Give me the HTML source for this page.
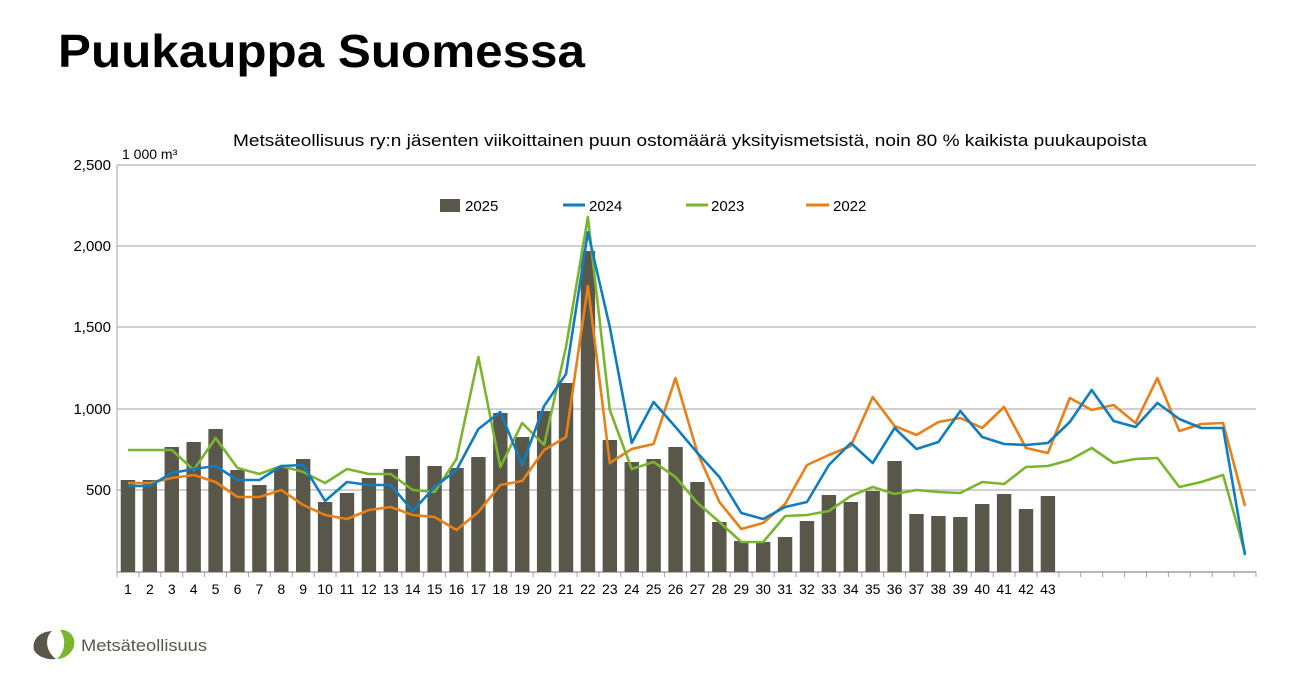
<!DOCTYPE html>
<html><head><meta charset="utf-8"><style>
html,body{margin:0;padding:0;background:#fff;width:1313px;height:687px;overflow:hidden}
svg{display:block;font-family:"Liberation Sans","DejaVu Sans",sans-serif}
</style></head><body>
<svg id="s" width="1313" height="687" xmlns="http://www.w3.org/2000/svg">
<text x="58" y="67" font-size="46" font-weight="bold" fill="#000" textLength="527" lengthAdjust="spacingAndGlyphs">Puukauppa Suomessa</text>
<text x="233" y="146" font-size="17" fill="#000" textLength="914" lengthAdjust="spacingAndGlyphs">Metsäteollisuus ry:n jäsenten viikoittainen puun ostomäärä yksityismetsistä, noin 80 % kaikista puukaupoista</text>
<text x="122" y="159" font-size="14" fill="#000">1 000 m³</text>
<g id="grid"></g>
<g id="bars" fill="#58574a"></g>
<g id="lines" fill="none" stroke-width="2.6" stroke-linejoin="round"></g>
<g font-size="15" fill="#000">
<rect x="440" y="199" width="20" height="13" fill="#58574a"/><text x="465" y="211">2025</text>
<line x1="563" y1="205" x2="585" y2="205" stroke="#0f7dc2" stroke-width="3"/><text x="589" y="211">2024</text>
<line x1="686" y1="205" x2="708" y2="205" stroke="#7ab530" stroke-width="3"/><text x="711" y="211">2023</text>
<line x1="806" y1="205" x2="829" y2="205" stroke="#e97f16" stroke-width="3"/><text x="833" y="211">2022</text>
</g>
<g>
<path d="M52 631 C36 632 32 643 34 650 C38 658 50 660 56 659 C46 652 44 638 52 631Z" fill="#58574a"/>
<path d="M60 630 C70 629 76 638 74 646 C72 654 64 659 57 659 C66 651 66 638 60 630Z" fill="#7ab530"/>
<text x="81" y="651" font-size="17" fill="#58574a" textLength="126" lengthAdjust="spacingAndGlyphs">Metsäteollisuus</text>
</g>
</svg>
<script>
var NS="http://www.w3.org/2000/svg",s=document.getElementById('s');
function el(p,t,a,txt){var e=document.createElementNS(NS,t);for(var k in a)e.setAttribute(k,a[k]);if(txt!=null)e.textContent=txt;document.getElementById(p)?document.getElementById(p).appendChild(e):s.appendChild(e);return e;}
var L=117,R=1256,W=(R-L)/52;
function X(i){return L+(i-0.5)*W;}
var gy=[[572,"0"],[490,"500"],[409,"1,000"],[327,"1,500"],[246,"2,000"],[165,"2,500"]];
gy.forEach(function(g,j){ if(j>0) el('grid','line',{x1:L,x2:R,y1:g[0],y2:g[0],stroke:"#b4b4b4","stroke-width":1.2});
 el('grid','text',{x:111,y:g[0]+5,"font-size":15,"text-anchor":"end",fill:"#000"},j==0?"":g[1]);});
el('grid','line',{x1:L,x2:L,y1:165,y2:572,stroke:"#b4b4b4","stroke-width":1.2});
el('grid','line',{x1:L,x2:R,y1:572,y2:572,stroke:"#a0a0a0","stroke-width":1.5});
for(var i=0;i<=52;i++)el('grid','line',{x1:L+i*W,x2:L+i*W,y1:572,y2:577,stroke:"#a0a0a0","stroke-width":1});
for(var i=1;i<=43;i++)el('grid','text',{x:X(i),y:594,"font-size":14,"text-anchor":"middle",fill:"#000"},i);
var bars=[480,480,447,442,429,470,485,467,459,502,493,478,469,456,466,468,457,413,437,411,383,251,440,462,459,447,482,522,541,542,537,521,495,502,491,461,514,516,517,504,494,509,496];
bars.forEach(function(y,k){var i=k+1;el('bars','rect',{x:X(i)-7.2,y:y,width:14.4,height:572-y});});
var blue=[486,486,473,469,466,480,480,466,465,501,482,485,485,511,487,470,429,412,465,406,374,232,327,443,402,427,453,477,513,519,507,502,465,443,463,428,449,442,411,437,444,445,443,422,390,421,427,403,419,428,428,555];
var green=[450,450,450,470,438,468,474,466,472,483,469,474,474,490,492,459,357,467,423,445,347,217,410,469,462,477,503,522,542,542,516,515,511,496,487,494,490,492,493,482,484,467,466,460,448,463,459,458,487,482,475,553];
var orange=[483,483,478,475,482,497,497,490,505,515,519,510,507,515,517,530,512,485,481,450,437,286,463,449,444,378,453,502,529,523,504,465,455,446,397,426,435,422,418,428,407,448,453,398,410,405,423,378,431,424,423,506];
[[orange,"#e97f16"],[green,"#7ab530"],[blue,"#0f7dc2"]].forEach(function(p){
 el('lines','polyline',{points:p[0].map(function(y,k){return X(k+1).toFixed(1)+","+y;}).join(" "),stroke:p[1]});});
</script>
</body></html>
